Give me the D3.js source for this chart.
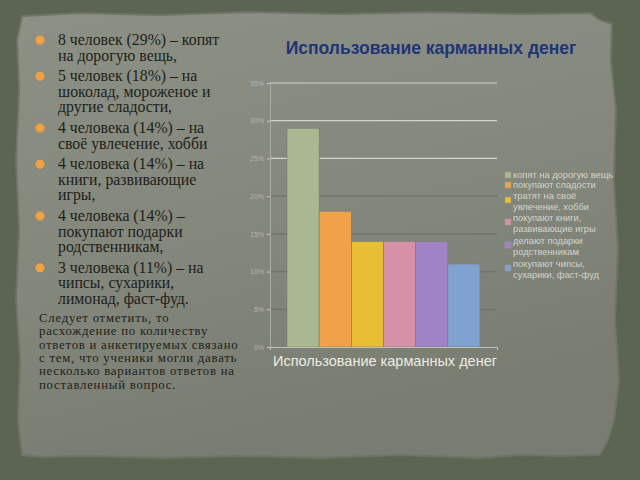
<!DOCTYPE html>
<html><head><meta charset="utf-8">
<script src="https://cdn.jsdelivr.net/npm/d3@7/dist/d3.min.js"></script>
<style>body{margin:0;background:#5c6552;} svg{display:block;}</style>
</head><body>
<svg id="c" width="640" height="480"></svg>
<script>
const chartTitle = "Использование карманных денег";
const axisTitle = "Использование карманных денег";
const categories = ["копят на дорогую вещь","покупают сладости","тратят на своё увлечение, хобби","покупают книги, развивающие игры","делают подарки родственникам","покупают чипсы, сухарики, фаст-фуд"];
const legendLines = [["копят на дорогую вещь"],["покупают сладости"],["тратят на своё","увлечение, хобби"],["покупают книги,","развивающие игры"],["делают подарки","родственникам"],["покупают чипсы,","сухарики, фаст-фуд"]];
const values = [29, 18, 14, 14, 14, 11];
const colors = ["#a9b891","#f0a24a","#e6bf32","#d690a8","#a082c6","#7fa2d0"];
const yTicks = [0,5,10,15,20,25,30,35];
const bulletLines = [
  ["8 человек (29%) – копят","на дорогую вещь,"],
  ["5 человек (18%) – на","шоколад, мороженое и","другие сладости,"],
  ["4 человека (14%) – на","своё увлечение, хобби"],
  ["4 человека (14%) – на","книги, развивающие","игры,"],
  ["4 человека (14%) –","покупают подарки","родственникам,"],
  ["3 человека (11%) – на","чипсы, сухарики,","лимонад, фаст-фуд."]
];
const noteLines = ["Следует отметить, то","расхождение по количеству","ответов и анкетируемых связано","с тем, что ученики могли давать","несколько вариантов ответов на","поставленный вопрос."];

const svg = d3.select("#c");
const defs = svg.append("defs");
const g1 = defs.append("linearGradient").attr("id","pg").attr("x1","0").attr("y1","0").attr("x2","0.3").attr("y2","1");
g1.append("stop").attr("offset","0").attr("stop-color","#8d9085");
g1.append("stop").attr("offset","0.6").attr("stop-color","#83867b");
g1.append("stop").attr("offset","1").attr("stop-color","#797c71");

// torn paper
const paper = [[22,16],[80,13],[160,15],[250,12],[340,14],[430,12],[520,14],[590,13],[600,20],[612,24],[611,60],[616,110],[614,180],[618,250],[615,320],[619,380],[614,420],[608,440],[600,455],[560,456],[520,455],[480,458],[400,455],[320,458],[240,456],[160,458],[90,456],[40,457],[22,455],[18,420],[20,360],[16,300],[19,230],[16,160],[19,90],[17,40]];
svg.append("path").attr("d", d3.line()(paper)+"Z").attr("fill","url(#pg)").attr("stroke","#6e7466").attr("stroke-width",2);

// left text
const serif = "'Liberation Serif','DejaVu Serif',serif";
let yy = 45;
bulletLines.forEach((lines,i)=>{
  svg.append("circle").attr("cx",40).attr("cy",yy-5).attr("r",4.5).attr("fill","#f2a040");
  lines.forEach((t,j)=>{
    svg.append("text").attr("x",58).attr("y",yy).attr("font-family",serif).attr("font-size",15.8)
      .attr("fill","#1d1f1a").text(t);
    yy += 15.6;
  });
  yy += 5;
});
noteLines.forEach((t,j)=>{
  svg.append("text").attr("x",39).attr("y",322+j*13.3).attr("font-family",serif).attr("font-size",12.8)
    .attr("letter-spacing",0.75).attr("fill","#1d1f1a").text(t);
});

// chart
const sans = "'Liberation Sans',Arial,sans-serif";
svg.append("text").attr("x",431).attr("y",54).attr("text-anchor","middle").attr("font-family",sans)
  .attr("font-weight","bold").attr("font-size",17.5).attr("fill","#1f3577").text(chartTitle);

const pL = 270, pR = 497, pT = 83, pB = 347;
const yS = d3.scaleLinear().domain([0,35]).range([pB, pT]);
const xS = d3.scaleBand().domain(categories).range([pL+17, pR-17]).padding(0);

const grid = svg.append("g");
grid.selectAll("line").data(yTicks.filter(d=>d>0)).join("line")
  .attr("x1",pL).attr("x2",pR).attr("y1",d=>yS(d)).attr("y2",d=>yS(d))
  .attr("stroke",d=> d>=25 ? "#d4d6cc" : "#6f7268").attr("stroke-width",1.2);

svg.append("g").selectAll("rect").data(values).join("rect")
  .attr("x",(d,i)=>xS(categories[i])).attr("width",xS.bandwidth())
  .attr("y",d=>yS(d)).attr("height",d=>pB-yS(d))
  .attr("fill",(d,i)=>colors[i]).attr("stroke","#7a7d72").attr("stroke-width",0.6);

const yAxis = svg.append("g").attr("transform",`translate(${pL},0)`)
  .call(d3.axisLeft(yS).tickValues(yTicks).tickSize(3).tickFormat(d=>d+"%"));
yAxis.select(".domain").attr("stroke","#a9aca1");
yAxis.selectAll(".tick line").attr("stroke","#c8cac0");
yAxis.selectAll("text").attr("font-family",sans).attr("font-size",7).attr("fill","#b4b7ac");

const xAxis = svg.append("g").attr("transform",`translate(0,${pB})`)
  .call(d3.axisBottom(d3.scaleLinear().domain([0,1]).range([pL,pR])).tickValues([0,1]).tickSize(3).tickFormat(""));
xAxis.select(".domain").attr("stroke","#c0c2b8");
xAxis.selectAll(".tick line").attr("stroke","#c0c2b8");

svg.append("text").attr("x",385).attr("y",366).attr("text-anchor","middle").attr("font-family",sans)
  .attr("font-size",14.5).attr("fill","#ecece4").text(axisTitle);

// legend
const legY = [175,185,200,222,245,268];
const leg = svg.append("g");
legendLines.forEach((lines,i)=>{
  leg.append("rect").attr("x",505).attr("y",legY[i]-3).attr("width",6).attr("height",6)
    .attr("fill",colors[i]).attr("stroke","#9a9c92").attr("stroke-width",0.5);
  const off = lines.length>1 ? -4 : 0;
  lines.forEach((t,j)=>{
    leg.append("text").attr("x",513).attr("y",legY[i]+off+j*11+3).attr("font-family",sans)
      .attr("font-size",9.3).attr("fill","#d2d4cc").text(t);
  });
});
</script>
</body></html>
